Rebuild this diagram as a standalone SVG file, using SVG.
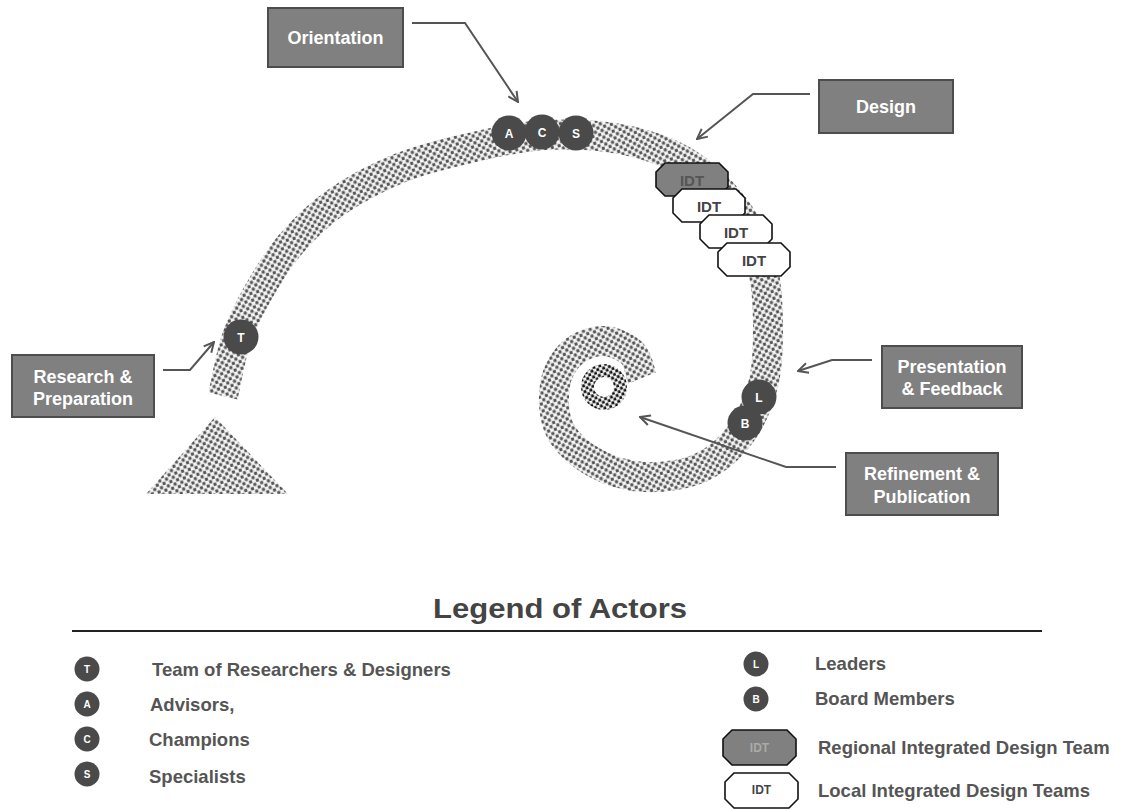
<svg xmlns="http://www.w3.org/2000/svg" width="1126" height="809" viewBox="0 0 1126 809">
  <defs>
    <!-- halftone texture used for the process path -->
    <pattern id="dots" width="7" height="7" patternUnits="userSpaceOnUse" patternTransform="rotate(-15)">
      <rect width="7" height="7" fill="#f4f4f4"/>
      <rect x="0.3" y="0.3" width="3.1" height="3.1" rx="0.7" fill="#555"/>
      <rect x="3.8" y="3.8" width="3.1" height="3.1" rx="0.7" fill="#555"/>
    </pattern>
    <pattern id="dotsDark" width="6" height="6" patternUnits="userSpaceOnUse" patternTransform="rotate(-15)">
      <rect width="6" height="6" fill="#f4f4f4"/>
      <rect x="0.3" y="0.3" width="2.9" height="2.9" rx="0.6" fill="#111"/>
      <rect x="3.3" y="3.3" width="2.9" height="2.9" rx="0.6" fill="#111"/>
    </pattern>
    <marker id="open" viewBox="0 0 12 12" refX="11" refY="6" markerWidth="12" markerHeight="12" markerUnits="userSpaceOnUse" orient="auto">
      <path d="M1,1 L11,6 L1,11" fill="none" stroke="#555" stroke-width="2"/>
    </marker>
    <path id="oct" d="M9,0 H63 L72,9 V24 L63,33 H9 L0,24 V9 Z"/>
    <path id="octL" d="M9,0 H64 L73,9 V26 L64,35 H9 L0,26 V9 Z"/>
  </defs>
  <style>
    text { font-family: "Liberation Sans", Arial, sans-serif; font-weight: bold; }
    .box rect { fill: #808080; stroke: #4d4d4d; stroke-width: 2; }
    .box text { fill: #ffffff; font-size: 18px; text-anchor: middle; }
    .actor circle { fill: #4a4a4a; }
    .actor text { fill: #ffffff; font-size: 12px; text-anchor: middle; }
    .idt use { stroke: #111; stroke-width: 1.6; }
    .idt text { font-size: 15px; text-anchor: middle; }
    .regional use { fill: #808080; }
    .regional text { fill: #555; }
    .local use { fill: #ffffff; }
    .local text { fill: #444; }
    .conn path { fill: none; stroke: #555; stroke-width: 2; marker-end: url(#open); }
    .legend .item { fill: #555; font-size: 18.5px; }
    .legend .actor text { fill: #ffffff; font-size: 10px; }
    .legend .mini { font-size: 12px; }
  </style>

  <rect width="1126" height="809" fill="#ffffff"/>

  <!-- process path: spiral band, base and inner core -->
  <g id="path">
    <path d="M223,396 C225.2,386.7 230.2,357.2 236,340 C241.8,322.8 249,308.8 258,293 C267,277.2 277.2,260 290,245 C302.8,230 316.7,215.8 335,203 C353.3,190.2 377.5,177.2 400,168 C422.5,158.8 445.8,153.5 470,148 C494.2,142.5 519.2,136.3 545,135 C570.8,133.7 600.8,135 625,140 C649.2,145 670.8,152.5 690,165 C709.2,177.5 727.8,197.5 740,215 C752.2,232.5 758.3,250.8 763,270 C767.7,289.2 768,310.8 768,330 C768,349.2 767.7,367.5 763,385 C758.3,402.5 750.5,421.2 740,435 C729.5,448.8 715.8,461 700,468 C684.2,475 662.5,477.8 645,477 C627.5,476.2 609.2,470.8 595,463 C580.8,455.2 566.7,443 560,430 C553.3,417 553,397.8 555,385 C557,372.2 564,360.3 572,353 C580,345.7 593,341 603,341 C613,341 625.5,346.8 632,353 C638.5,359.2 640.3,373.8 642,378" fill="none" stroke="url(#dots)" stroke-width="30"/>
    <polygon points="215,417 146,494 288,494" fill="url(#dots)"/>
    <circle cx="604" cy="387" r="16.5" fill="none" stroke="url(#dotsDark)" stroke-width="13"/>
  </g>

  <!-- design teams stacked on the path -->
  <g id="idt-regional" class="idt regional">
    <use href="#oct" x="656" y="163"/>
    <text x="692" y="186">IDT</text>
  </g>
  <g id="idt-local-1" class="idt local">
    <use href="#oct" x="673" y="189"/>
    <text x="709" y="212">IDT</text>
  </g>
  <g id="idt-local-2" class="idt local">
    <use href="#oct" x="700" y="215"/>
    <text x="736" y="238">IDT</text>
  </g>
  <g id="idt-local-3" class="idt local">
    <use href="#oct" x="718" y="243"/>
    <text x="754" y="266">IDT</text>
  </g>

  <!-- actors on the path -->
  <g id="actor-t" class="actor"><circle cx="241" cy="337" r="17.5"/><text x="241" y="341.5">T</text></g>
  <g id="actor-a" class="actor"><circle cx="509" cy="133" r="17.5"/><text x="509" y="137.5">A</text></g>
  <g id="actor-c" class="actor"><circle cx="542" cy="132" r="17.5"/><text x="542" y="136.5">C</text></g>
  <g id="actor-s" class="actor"><circle cx="576" cy="133" r="17.5"/><text x="576" y="137.5">S</text></g>
  <g id="actor-l" class="actor"><circle cx="759" cy="397" r="17.5"/><text x="759" y="401.5">L</text></g>
  <g id="actor-b" class="actor"><circle cx="745" cy="423" r="17.5"/><text x="745" y="427.5">B</text></g>

  <!-- callout connectors -->
  <g id="connectors" class="conn">
    <path d="M412,23 H465 L518,102"/>
    <path d="M810,94 H753 L697,139"/>
    <path d="M163,370 H190 L214,342"/>
    <path d="M872,360 H832 L798,371"/>
    <path d="M836,467 H786 L640,417"/>
  </g>

  <!-- phase labels -->
  <g id="phase-orientation" class="box">
    <rect x="268" y="8" width="135" height="59"/>
    <text x="335.5" y="44">Orientation</text>
  </g>
  <g id="phase-design" class="box">
    <rect x="819" y="80" width="134" height="53"/>
    <text x="886" y="113">Design</text>
  </g>
  <g id="phase-research" class="box">
    <rect x="12" y="355" width="142" height="62"/>
    <text x="83" y="383">Research &amp;</text>
    <text x="83" y="405">Preparation</text>
  </g>
  <g id="phase-presentation" class="box">
    <rect x="882" y="346" width="140" height="62"/>
    <text x="952" y="373">Presentation</text>
    <text x="952" y="395">&amp; Feedback</text>
  </g>
  <g id="phase-refinement" class="box">
    <rect x="846" y="453" width="152" height="62"/>
    <text x="922" y="480">Refinement &amp;</text>
    <text x="922" y="503">Publication</text>
  </g>

  <!-- legend -->
  <g id="legend" class="legend">
    <text x="433" y="618" textLength="254" lengthAdjust="spacingAndGlyphs" style="font-size:27px;fill:#444">Legend of Actors</text>
    <line x1="72" y1="631" x2="1042" y2="631" stroke="#222" stroke-width="2"/>

    <g id="legend-t" class="actor"><circle cx="87" cy="669" r="12.5"/><text x="87" y="672.5">T</text></g>
    <text class="item" x="152" y="676">Team of Researchers &amp; Designers</text>
    <g id="legend-a" class="actor"><circle cx="87" cy="704" r="12.5"/><text x="87" y="707.5">A</text></g>
    <text class="item" x="150" y="711">Advisors,</text>
    <g id="legend-c" class="actor"><circle cx="87" cy="739" r="12.5"/><text x="87" y="742.5">C</text></g>
    <text class="item" x="149" y="746">Champions</text>
    <g id="legend-s" class="actor"><circle cx="87" cy="774" r="12.5"/><text x="87" y="777.5">S</text></g>
    <text class="item" x="149" y="783">Specialists</text>

    <g id="legend-l" class="actor"><circle cx="756" cy="664" r="12.5"/><text x="756" y="667.5">L</text></g>
    <text class="item" x="815" y="670">Leaders</text>
    <g id="legend-b" class="actor"><circle cx="756" cy="699" r="12.5"/><text x="756" y="702.5">B</text></g>
    <text class="item" x="815" y="705">Board Members</text>

    <g id="legend-regional" class="idt regional">
      <use href="#octL" x="723" y="730"/>
      <text class="mini" x="759.5" y="752" style="fill:#aaa">IDT</text>
    </g>
    <text class="item" x="818" y="754">Regional Integrated Design Team</text>
    <g id="legend-local" class="idt local">
      <use href="#octL" x="725" y="773"/>
      <text class="mini" x="761.5" y="794">IDT</text>
    </g>
    <text class="item" x="818" y="797">Local Integrated Design Teams</text>
  </g>
</svg>
